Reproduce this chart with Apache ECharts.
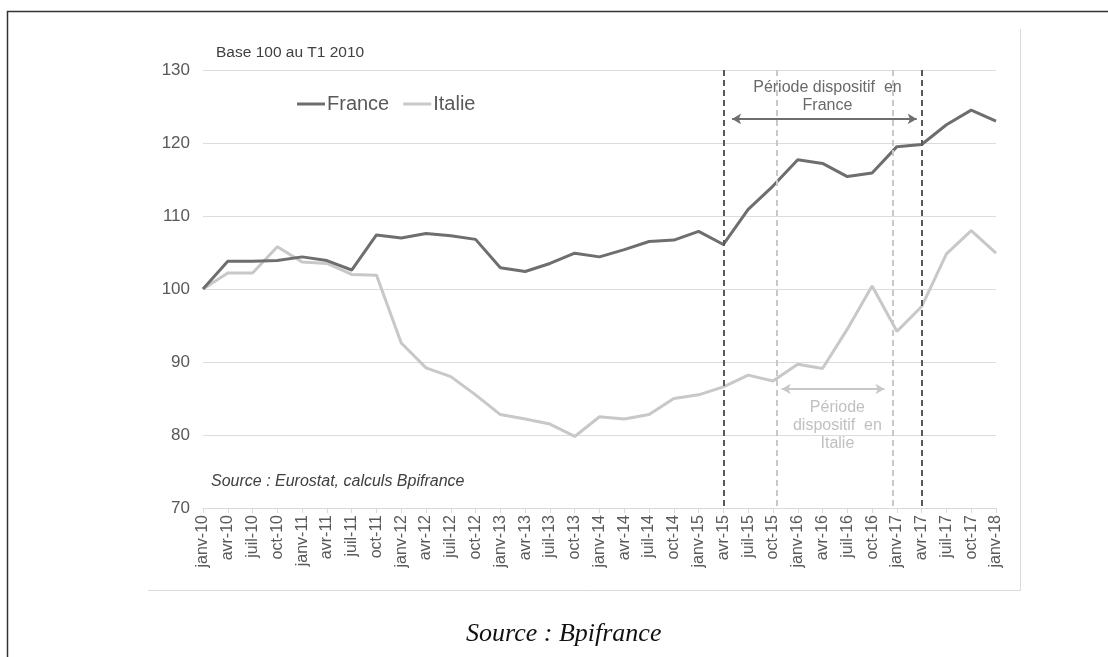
<!DOCTYPE html>
<html>
<head>
<meta charset="utf-8">
<script src="https://cdn.jsdelivr.net/npm/echarts@6/dist/echarts.min.js"></script>
<style>
html,body{margin:0;padding:0;background:#fff;}
#chart{width:1108px;height:657px;}
</style>
</head>
<body>
<div id="chart"></div>
<script>
var categories = ['janv-10','avr-10','juil-10','oct-10','janv-11','avr-11','juil-11','oct-11',
  'janv-12','avr-12','juil-12','oct-12','janv-13','avr-13','juil-13','oct-13',
  'janv-14','avr-14','juil-14','oct-14','janv-15','avr-15','juil-15','oct-15',
  'janv-16','avr-16','juil-16','oct-16','janv-17','avr-17','juil-17','oct-17','janv-18'];
var france = [100,103.8,103.8,103.9,104.4,103.9,102.6,107.4,
  107.0,107.6,107.3,106.8,102.9,102.4,103.5,104.9,
  104.4,105.4,106.5,106.7,107.9,106.1,110.9,114.1,
  117.7,117.2,115.4,115.9,119.5,119.8,122.5,124.5,123.0];
var italie = [100,102.2,102.2,105.8,103.7,103.5,102.0,101.9,
  92.6,89.2,88.0,85.5,82.8,82.2,81.5,79.8,
  82.5,82.2,82.8,85.0,85.5,86.6,88.2,87.4,
  89.7,89.1,94.5,100.4,94.2,97.6,104.8,108.0,104.9];
var yTicks = {min:70, max:130, interval:10};
// annotation positions (category index units / axis values)
var francePeriod = [21, 29];
var italiePeriod = [23.15, 27.85];
var franceArrow = {from:21.35, to:28.8, y:123.3};
var italieArrow = {from:23.35, to:27.5, y:86.3};
var franceText = {x:25.2, y:126.4, text:'Période dispositif  en\nFrance'};
var italieText = {x:25.6, y:81.3, text:'Période\ndispositif  en\nItalie'};

var DARK = '#6e6e6e', LIGHT = '#c8c8c8', TXT = '#595959';
var FONT = '"Liberation Sans", Arial, sans-serif';

function vline(x, color) {
  return [{coord:[x, yTicks.max], lineStyle:{color:color, width:2, type:[6,4]}}, {coord:[x, yTicks.min]}];
}

var chart = echarts.init(document.getElementById('chart'), null, {renderer:'canvas'});
chart.setOption({
  animation:false,
  backgroundColor:'#fff',
  textStyle:{fontFamily:FONT},
  grid:{left:203, right:112, top:70, bottom:149, containLabel:false},
  legend:{
    data:['France','Italie'], left:292, top:89, icon:'rect', itemWidth:28, itemHeight:3, itemGap:14,
    textStyle:{fontSize:20, color:TXT, fontFamily:FONT, padding:[0,0,0,-3]}
  },
  xAxis:[{
    type:'category', data:categories, boundaryGap:false,
    axisLine:{lineStyle:{color:'#d9d9d9', width:1}},
    axisTick:{show:true, length:5, lineStyle:{color:'#d9d9d9'}},
    axisLabel:{rotate:90, interval:0, fontSize:16, color:TXT, margin:7, fontFamily:FONT},
    splitLine:{show:false}
  },{
    type:'value', min:0, max:categories.length-1, show:false
  }],
  yAxis:{
    type:'value', min:yTicks.min, max:yTicks.max, interval:yTicks.interval,
    axisLine:{show:false}, axisTick:{show:false},
    axisLabel:{fontSize:17, color:TXT, margin:13, fontFamily:FONT},
    splitLine:{lineStyle:{color:'#dcdcdc', width:1.2}}
  },
  series:[
    {name:'Italie', type:'line', data:italie, showSymbol:false, symbol:'none',
     lineStyle:{color:LIGHT, width:3}, itemStyle:{color:LIGHT}, z:3},
    {name:'France', type:'line', data:france, showSymbol:false, symbol:'none',
     lineStyle:{color:DARK, width:3}, itemStyle:{color:DARK}, z:4},
    {type:'line', xAxisIndex:1, yAxisIndex:0, data:[], z:2,
     markLine:{silent:true, symbol:['none','none'], label:{show:false},
       data:[vline(italiePeriod[0], LIGHT), vline(italiePeriod[1], LIGHT),
             vline(francePeriod[0], '#595959'), vline(francePeriod[1], '#595959')]}},
    {type:'line', xAxisIndex:1, yAxisIndex:0, data:[], z:5,
     markLine:{silent:true, symbol:['arrow','arrow'], symbolSize:[8,9], label:{show:false},
       data:[
         [{coord:[franceArrow.from, franceArrow.y], lineStyle:{color:DARK, width:2, type:'solid'}}, {coord:[franceArrow.to, franceArrow.y]}],
         [{coord:[italieArrow.from, italieArrow.y], lineStyle:{color:LIGHT, width:2, type:'solid'}}, {coord:[italieArrow.to, italieArrow.y]}]
       ]},
     markPoint:{silent:true, symbol:'circle', symbolSize:0,
       data:[
         {coord:[franceText.x, franceText.y], label:{show:true, position:'inside', formatter:franceText.text, color:'#6a6a6a', fontSize:16, lineHeight:18, fontFamily:FONT}},
         {coord:[italieText.x, italieText.y], label:{show:true, position:'inside', formatter:italieText.text, color:'#c0c0c0', fontSize:16, lineHeight:18, fontFamily:FONT}}
       ]}}
  ],
  graphic:[
    {type:'polyline', shape:{points:[[7.5,660],[7.5,11.5],[1110,11.5]]}, style:{stroke:'#333', lineWidth:1.5, fill:null}, silent:true},
    {type:'polyline', shape:{points:[[148,590.5],[1020.5,590.5],[1020.5,29]]}, style:{stroke:'#d9d9d9', lineWidth:1, fill:null}, silent:true},
    {type:'text', left:216, top:45, style:{text:'Base 100 au T1 2010', fill:'#404040', font:'15.5px "Liberation Sans", Arial, sans-serif'}},
    {type:'text', left:211, top:474, style:{text:'Source : Eurostat, calculs Bpifrance', fill:'#404040', font:'italic 16px "Liberation Sans", Arial, sans-serif'}},
    {type:'text', left:466, top:621, style:{text:'Source : Bpifrance', fill:'#111', font:'italic 26px "Liberation Serif", "DejaVu Serif", serif'}}
  ]
});
</script>
</body>
</html>
